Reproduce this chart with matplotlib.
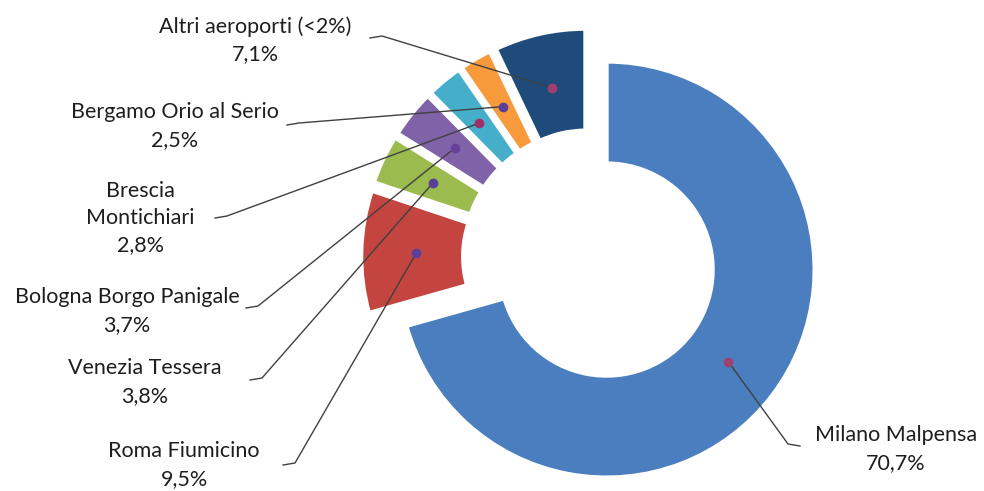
import numpy as np
import matplotlib.pyplot as plt

# data, clockwise from 12 o'clock
airports = ['Milano Malpensa', 'Roma Fiumicino', 'Venezia Tessera',
            'Bologna Borgo Panigale', 'Brescia\nMontichiari',
            'Bergamo Orio al Serio', 'Altri aeroporti (<2%)']
shares = [70.7, 9.5, 3.8, 3.7, 2.8, 2.5, 7.1]
share_labels = ['70,7%', '9,5%', '3,8%', '3,7%', '2,8%', '2,5%', '7,1%']
colors = ['#4a7ebf', '#c4453f', '#9bbb4f', '#8062a8', '#45aecb', '#f79a3c', '#1f4b7b']
dot_colors = ['#a0406e', '#5a3f9a', '#5a3f9a', '#6a3f9a', '#a0306a', '#5a3f9a', '#a0406e']

# label placement (pixel coords, y from top): text centre and leader start
label_xy = [(896, 449), (184, 465), (145, 382), (127, 311), (140, 218), (175, 126), (255, 40)]
leader_start = [(800, 446), (283, 465), (250, 380), (246, 308), (215, 218), (287, 125), (370, 38)]
leader_side = [-1, 1, 1, 1, 1, 1, 1]

W, H = 984, 491
fig = plt.figure(figsize=(W / 100, H / 100), dpi=100)
ax = fig.add_axes([0, 0, 1, 1])

cx, cy, R = 590, H - 257, 208
wedges, _ = ax.pie(shares, colors=colors, startangle=90, counterclock=False,
                   center=(cx, cy), radius=R, explode=[0.1 * R] * len(shares),
                   wedgeprops=dict(width=0.49 * R, edgecolor='white', linewidth=3))
ax.set_xlim(0, W)
ax.set_ylim(0, H)
ax.set_aspect('equal')
ax.axis('off')

for i, w in enumerate(wedges):
    mid = np.deg2rad((w.theta1 + w.theta2) / 2)
    wx, wy = w.center
    dx = wx + 0.735 * R * np.cos(mid)
    dy = wy + 0.735 * R * np.sin(mid)
    sx, sy = leader_start[i]
    sy = H - sy
    kx = sx + leader_side[i] * 12
    ax.plot([sx, kx, dx], [sy, sy + 2, dy], color='#404040', lw=1, zorder=5)
    ax.plot(dx, dy, 'o', ms=6, color=dot_colors[i], zorder=6)
    tx, ty = label_xy[i]
    ax.text(tx, H - ty, airports[i] + '\n' + share_labels[i], ha='center', va='center',
            fontsize=15.5, family='Lato', color='#1e1e1e', linespacing=1.45)

fig.savefig('out.png', dpi=100)
